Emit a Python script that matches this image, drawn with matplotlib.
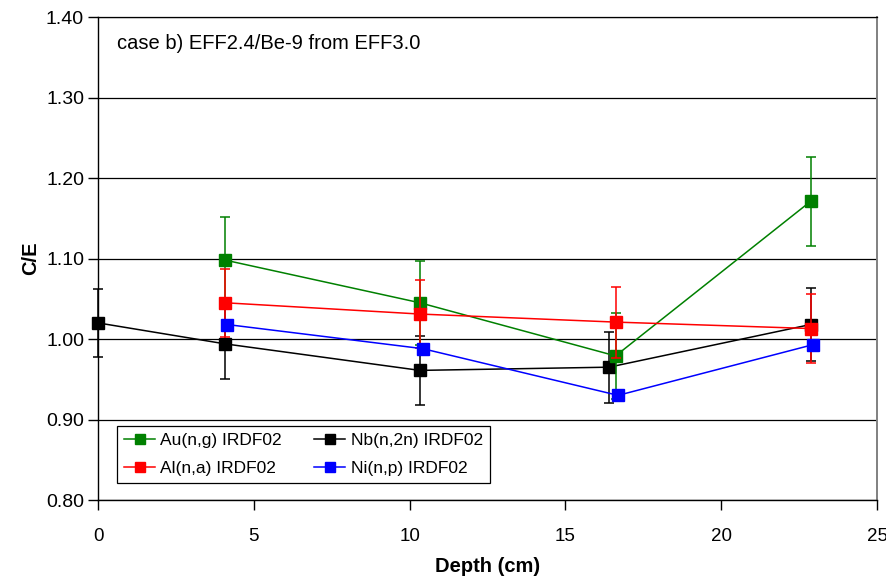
import matplotlib
matplotlib.use("Agg")
import matplotlib.pyplot as plt
from matplotlib.lines import Line2D

plt.rcParams['font.family'] = ['Liberation Sans', 'DejaVu Sans']

# Depth (cm) and C/E values for each reaction
au_depth = [4.08, 10.33, 16.61, 22.87]
au_ce = [1.098, 1.045, 0.979, 1.171]
au_err = [0.054, 0.052, 0.053, 0.055]

nb_depth = [0.0, 4.07, 10.33, 16.4, 22.87]
nb_ce = [1.020, 0.994, 0.961, 0.965, 1.018]
nb_err = [0.042, 0.044, 0.043, 0.044, 0.045]

al_depth = [4.08, 10.33, 16.61, 22.87]
al_ce = [1.045, 1.031, 1.021, 1.013]
al_err = [0.042, 0.042, 0.044, 0.043]

ni_depth = [4.14, 10.42, 16.69, 22.95]
ni_ce = [1.018, 0.988, 0.930, 0.993]

x_ticks = [0, 5, 10, 15, 20, 25]
y_ticks = [0.80, 0.90, 1.00, 1.10, 1.20, 1.30, 1.40]

GREEN, RED, BLUE = '#008000', '#ff0000', '#0000ff'

fig = plt.figure(figsize=(8.86, 5.84), dpi=100)
ax = fig.add_axes([98 / 886, 1 - 500 / 584, 779 / 886, 483 / 584])

ax.set_xlim(0, 25)
ax.set_ylim(0.80, 1.40)
ax.set_yticks(y_ticks)
ax.set_yticklabels([f"{v:.2f}" for v in y_ticks])
ax.set_xticks(x_ticks)
ax.yaxis.grid(True, color='black', linewidth=0.9)
ax.set_axisbelow(True)

ax.spines['top'].set_color('black')
ax.spines['top'].set_linewidth(0.9)
ax.spines['right'].set_color('#808080')
ax.spines['right'].set_linewidth(1.4)
for side in ['left', 'bottom']:
    ax.spines[side].set_color('black')
    ax.spines[side].set_linewidth(1.0)

ax.tick_params(axis='both', direction='out', length=7, width=1,
               labelsize=14, colors='black')
ax.tick_params(axis='x', pad=13, labelsize=13.5)
ax.tick_params(axis='y', pad=3)

common = dict(marker='s', markersize=9, linewidth=1.1, elinewidth=1.1,
              capsize=3.5, capthick=1.1, clip_on=False)

ax.errorbar(au_depth, au_ce, yerr=au_err, color=GREEN, zorder=4, **common)
ax.errorbar(al_depth, al_ce, yerr=al_err, color=RED, zorder=5, **common)
ax.errorbar(nb_depth, nb_ce, yerr=nb_err, color='black', zorder=3, **common)
ax.plot(ni_depth, ni_ce, marker='s', markersize=9, linewidth=1.1,
        color=BLUE, zorder=6)

ax.text(0.025, 0.945, 'case b) EFF2.4/Be-9 from EFF3.0',
        transform=ax.transAxes, fontsize=14.5, va='center', ha='left')

ax.set_xlabel('Depth (cm)', fontsize=14.5, fontweight='bold', labelpad=9)
ax.set_ylabel('C/E', fontsize=14.5, fontweight='bold', labelpad=4)

def key(color):
    return Line2D([], [], color=color, marker='s', markersize=7, linewidth=1.1)

leg = ax.legend([key(GREEN), key(RED), key('black'), key(BLUE)],
                ['Au(n,g) IRDF02', 'Al(n,a) IRDF02',
                 'Nb(n,2n) IRDF02', 'Ni(n,p) IRDF02'],
                ncol=2, loc='lower left', bbox_to_anchor=(0.0244, 0.035),
                fontsize=12.5, frameon=True, fancybox=False,
                edgecolor='black', framealpha=1, borderpad=0.4,
                handlelength=1.8, handletextpad=0.3, columnspacing=1.85,
                labelspacing=0.75, borderaxespad=0)
leg.get_frame().set_linewidth(0.9)

fig.savefig('out.png', dpi=100)
